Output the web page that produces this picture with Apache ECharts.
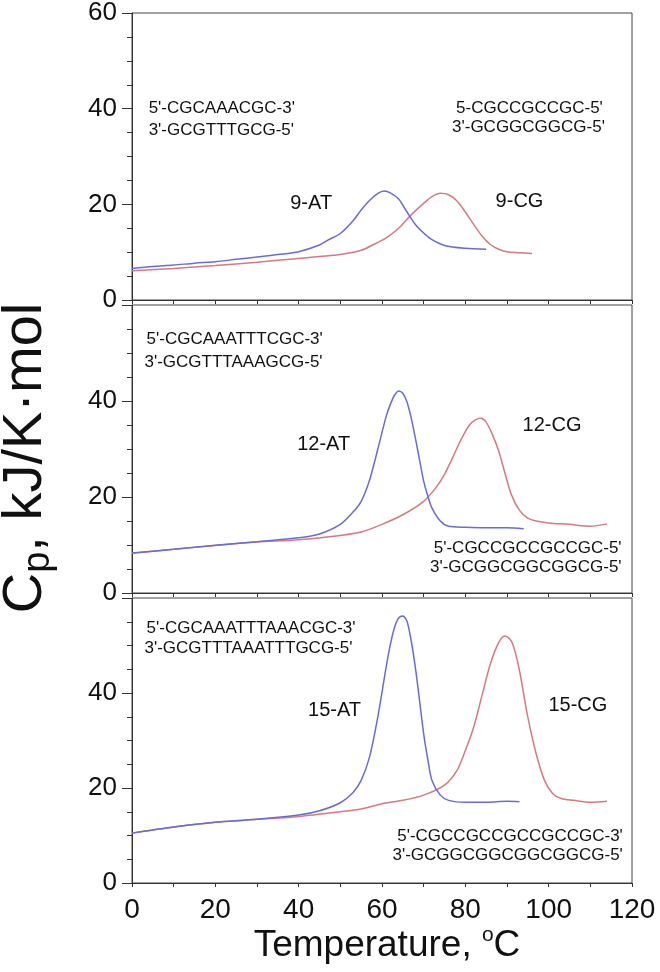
<!DOCTYPE html>
<html><head><meta charset="utf-8">
<script src="https://cdn.jsdelivr.net/npm/echarts@6/dist/echarts.min.js"></script>
<style>html,body{margin:0;padding:0;background:#fff}#c{width:660px;height:972px}</style>
</head><body><div id="c"></div>
<script>
// ---- data (temperature °C, Cp kJ/K·mol) ----
const T_9AT = [0,5,10,15,20,25,30,35,40,45,47,50,53,55,57,59,60.5,62,64,66,68,70,72,75,80,85];
const V_9AT = [6.6,7.0,7.3,7.7,8.0,8.5,9.0,9.5,10.1,11.5,12.5,13.9,16.5,18.8,20.8,22.3,22.8,22.4,21.1,18.4,15.8,14.0,12.6,11.4,10.8,10.6];
const T_9CG = [0,10,20,30,40,45,50,55,58,61,64,67,70,72,74,76,78,80,82,84,86,88,90,93,96];
const V_9CG = [6.1,6.6,7.2,7.9,8.7,9.1,9.5,10.4,11.6,13.0,15.0,17.8,20.2,21.6,22.3,22.0,20.7,18.4,15.8,13.4,11.6,10.6,10.1,9.9,9.7];
const T_12AT = [0,10,20,30,40,45,50,53,55,57,59,61,62,63,64,65,66,67,68,69,70,71,72,74,76,80,85,90,94];
const V_12AT = [8.35,9.1,9.95,10.7,11.5,12.3,14.3,16.8,19.1,23.5,30,36.8,39.3,41.2,42.1,41.6,39.8,36.5,32.3,27.8,23.3,20.2,17.7,15.0,13.9,13.7,13.6,13.6,13.4];
const T_12CG = [0,10,20,30,40,50,55,60,65,70,73,75,77,79,81,82.5,83.7,85,86.5,88,89.5,91,93,95,97,100,105,110,114];
const V_12CG = [8.3,9.1,9.9,10.6,11.1,12.0,12.7,14.3,16.3,19.1,22.0,24.7,28.3,32.0,35.0,36.1,36.4,35.6,33.0,29.6,25.0,20.6,17.2,15.6,15.0,14.6,14.3,13.9,14.4];
const T_15AT = [0,10,20,30,40,45,50,53,55,57,59,61,62,63,64,65,66,67,68,69,70,71,72,74,76,80,85,90,93];
const V_15AT = [10.5,11.8,12.8,13.4,14.3,15.2,16.9,19.0,21.6,26.5,35.0,45.5,50.2,53.8,55.8,56.2,55.1,51.0,45.4,38.5,31.4,26.0,21.6,18.5,17.4,17.0,17.0,17.2,17.1];
const T_15CG = [0,10,20,30,40,50,55,60,65,70,75,78,80,82,84,86,88,89.5,91,92,93,95,97,99,101,103,106,110,114];
const V_15CG = [10.5,11.8,12.8,13.4,14.0,15.0,15.6,16.7,17.4,18.5,20.6,23.7,27.9,32.8,39.5,46.1,50.6,52.0,51.0,48.5,44.7,34.9,27.2,21.6,18.8,17.8,17.4,17.0,17.2];

const xTicks = [0,20,40,60,80,100,120];
const yTicks = [0,20,40,60];

// annotations: [panel, T, Cp, text, align, kind]
const NOTES = [
  [0, 4, 40, "5'-CGCAAACGC-3'", 'left', 's'],
  [0, 4, 35.5, "3'-GCGTTTGCG-5'", 'left', 's'],
  [0, 113, 40, "5-CGCCGCCGC-5'", 'right', 's'],
  [0, 113.5, 36, "3'-GCGGCGGCG-5'", 'right', 's'],
  [0, 43, 20.2, "9-AT", 'center', 'b'],
  [0, 93, 20.5, "9-CG", 'center', 'b'],
  [1, 3.5, 52.9, "5'-CGCAAATTTCGC-3'", 'left', 's'],
  [1, 3, 48, "3'-GCGTTTAAAGCG-5'", 'left', 's'],
  [1, 46, 31, "12-AT", 'center', 'b'],
  [1, 100.8, 34.8, "12-CG", 'center', 'b'],
  [1, 117.5, 9.4, "5'-CGCCGCCGCCGC-5'", 'right', 's'],
  [1, 117.5, 5.4, "3'-GCGGCGGCGGCG-5'", 'right', 's'],
  [2, 3.5, 53.7, "5'-CGCAAATTTAAACGC-3'", 'left', 's'],
  [2, 3, 49.5, "3'-GCGTTTAAATTTGCG-5'", 'left', 's'],
  [2, 48.6, 36.4, "15-AT", 'center', 'b'],
  [2, 107, 37.3, "15-CG", 'center', 'b'],
  [2, 117.8, 9.8, "5'-CGCCGCCGCCGCCGC-3'", 'right', 's'],
  [2, 117.8, 5.9, "3'-GCGGCGGCGGCGGCG-5'", 'right', 's']
];

const FONT = '"Liberation Sans", Arial, sans-serif';
const BLUE = '#6b6bd4', RED = '#d27b83';
const pairs = (t, v) => t.map((x, i) => [x, v[i]]);

const grids = [
  {left: 132, width: 500, top: 13, height: 287},
  {left: 132, width: 500, top: 305, height: 288},
  {left: 132, width: 500, top: 598, height: 285}
].map(g => Object.assign(g, {show: true, borderColor: '#444', borderWidth: 1}));

const xAxes = [0,1,2].map(i => ({
  type: 'value', gridIndex: i, min: xTicks[0], max: xTicks[xTicks.length-1], interval: 20,
  axisLine: {show: true, lineStyle: {color: '#333', width: 1}},
  axisTick: {show: true, length: 4, lineStyle: {color: '#333'}},
  minorTick: {show: true, splitNumber: 2, length: 4, lineStyle: {color: '#333'}},
  splitLine: {show: false},
  axisLabel: {show: i === 2, fontFamily: FONT, fontSize: 28, color: '#111', margin: 13}
}));

const yAxes = [0,1,2].map(i => ({
  type: 'value', gridIndex: i, min: yTicks[0], max: yTicks[yTicks.length-1], interval: 20,
  axisLine: {show: true, lineStyle: {color: '#333', width: 1}},
  axisTick: {show: true, length: 10, lineStyle: {color: '#333'}},
  minorTick: {show: true, splitNumber: 4, length: 5, lineStyle: {color: '#333'}},
  splitLine: {show: false},
  axisLabel: {fontFamily: FONT, fontSize: 26, color: '#111', margin: 15,
    formatter: v => (i > 0 && v === 60) ? '' : String(v)}
}));

const mk = (name, g, t, v, color) => ({
  name, type: 'line', xAxisIndex: g, yAxisIndex: g, data: pairs(t, v),
  showSymbol: false, smooth: 0.3, lineStyle: {color, width: 1.5}, itemStyle: {color}
});

const series = [
  mk('9-CG', 0, T_9CG, V_9CG, RED), mk('9-AT', 0, T_9AT, V_9AT, BLUE),
  mk('12-CG', 1, T_12CG, V_12CG, RED), mk('12-AT', 1, T_12AT, V_12AT, BLUE),
  mk('15-CG', 2, T_15CG, V_15CG, RED), mk('15-AT', 2, T_15AT, V_15AT, BLUE)
];

const chart = echarts.init(document.getElementById('c'), null, {renderer: 'canvas'});
chart.setOption({
  animation: false, backgroundColor: '#fff',
  grid: grids, xAxis: xAxes, yAxis: yAxes, series
});

const g = NOTES.map(n => {
  const p = chart.convertToPixel({gridIndex: n[0]}, [n[1], n[2]]);
  return {type: 'text', x: p[0], y: p[1], z: 10, style: {
    text: n[3], align: n[4], verticalAlign: 'middle', fill: '#111',
    font: (n[5] === 'b' ? '20px ' : '17px ') + FONT}};
});
g.push({
  type: 'text', x: 26, y: 458, rotation: Math.PI / 2, z: 10,
  style: {text: '{c|C}{p|p}{c|, kJ/K·mol}', align: 'center', verticalAlign: 'middle', fill: '#111',
    rich: {
      c: {fontFamily: FONT, fontSize: 56, lineHeight: 64, verticalAlign: 'middle', fill: '#111'},
      p: {fontFamily: FONT, fontSize: 38, lineHeight: 22, verticalAlign: 'bottom', fill: '#111'}
    }}
});
g.push({
  type: 'text', x: 387, y: 946, z: 10,
  style: {text: '{t|Temperature, }{o|o}{t|C}', align: 'center', verticalAlign: 'middle', fill: '#111',
    rich: {
      t: {fontFamily: FONT, fontSize: 37, lineHeight: 42, verticalAlign: 'middle', fill: '#111'},
      o: {fontFamily: FONT, fontSize: 21, lineHeight: 18, verticalAlign: 'top', fill: '#111'}
    }}
});
chart.setOption({graphic: g});
</script></body></html>
